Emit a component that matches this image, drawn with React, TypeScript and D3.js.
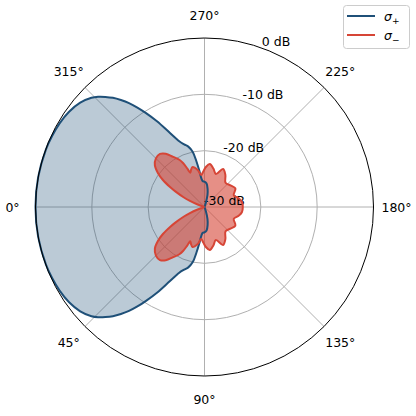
import React from 'react';
import * as d3 from 'd3';

const W = 416;
const H = 416;
const CX = 204.5;
const CY = 207;
const R = 169;

// sigma+ pattern (theta in degrees, 0 = West, counter-clockwise on screen), dB
const blueAngles = [0, 10, 20, 25, 30, 35, 40, 44, 46, 48, 50, 52, 54, 56, 58, 61, 65, 69, 72, 75, 78, 80, 82, 84, 86, 90, 95, 100, 104, 108, 112, 180,
  248, 252, 256, 260, 265, 270, 274, 276, 278, 280, 282, 285, 288, 291, 295, 299, 302, 304, 306, 308, 310, 312, 314, 316, 320, 325, 330, 335, 340, 350];
const blueDb = [0, 0, -0.05, -0.15, -0.3, -0.6, -1.2, -2.1, -2.8, -3.7, -4.7, -5.9, -7.2, -8.7, -10.3, -12.6, -15.5, -17.5, -18.3, -18.9, -20.0, -21.8, -23.6, -25.0, -25.4, -25.5, -25.8, -26.8, -27.8, -29.2, -30, -30,
  -30, -29.2, -27.8, -26.8, -25.8, -25.5, -25.4, -25.0, -23.6, -21.8, -20.0, -18.9, -18.3, -17.5, -15.5, -12.6, -10.3, -8.7, -7.2, -5.9, -4.7, -3.7, -2.8, -2.1, -1.2, -0.6, -0.3, -0.15, -0.05, 0];

// sigma- pattern
const redAngles = [0, 15, 18, 20, 23, 25, 28, 30, 33, 36, 40, 45, 50, 54, 58, 62, 64, 66, 67.5, 70, 73, 76, 80, 84, 88, 92, 97, 103, 109, 116, 123, 131, 140, 149, 158, 166, 172, 180,
  188, 194, 202, 211, 220, 229, 237, 244, 251, 257, 263, 268, 272, 276, 280, 284, 287, 290, 292.5, 294, 296, 298, 302, 306, 310, 315, 320, 324, 327, 330, 332, 335, 337, 340, 342, 345];
const redDb = [-30, -30, -29.6, -28.7, -27.1, -25.9, -24.2, -23.0, -21.2, -19.8, -18.5, -17.8, -17.7, -18.3, -19.5, -20.5, -21.3, -22.6, -23.4, -23.0, -22.6, -22.8, -23.4, -24.3, -23.7, -22.9, -22.3, -23.0, -23.8, -22.5, -23.2, -24.3, -24.0, -23.6, -24.4, -23.7, -23.3, -23.2,
  -23.3, -23.7, -24.4, -23.6, -24.0, -24.3, -23.2, -22.5, -23.8, -23.0, -22.3, -22.9, -23.7, -24.3, -23.4, -22.8, -22.6, -23.0, -23.4, -22.6, -21.3, -20.5, -19.5, -18.3, -17.7, -17.8, -18.5, -19.8, -21.2, -23.0, -24.2, -25.9, -27.1, -28.7, -29.6, -30];

const angleTicks = [0, 45, 90, 135, 180, 225, 270, 315];
const angleTickLabels = ['0°', '45°', '90°', '135°', '180°', '225°', '270°', '315°'];
const radialTicks = [-30, -20, -10, 0];
const radialTickLabels = ['-30 dB', '-20 dB', '-10 dB', '0 dB'];
const seriesSub = ['+', '−'];
const seriesColors = ['#1f5078', '#d64536'];

const rScale = d3.scaleLinear().domain([-30, 0]).range([0, R]).clamp(true);
const toRad = (deg: number) => ((270 - deg) * Math.PI) / 180;

type Pt = { a: number; v: number };
const mk = (angles: number[], vals: number[]): Pt[] => angles.map((a, i) => ({ a, v: vals[i] }));

const line = d3
  .lineRadial<Pt>()
  .angle((d) => toRad(d.a))
  .radius((d) => rScale(d.v))
  .curve(d3.curveCatmullRomClosed.alpha(0.5));

export default function App() {
  const blue = mk(blueAngles, blueDb);
  const red = mk(redAngles, redDb);
  const bluePath = line(blue) || '';
  const redPath = line(red) || '';
  const font = 'DejaVu Sans, sans-serif';
  const pos = (deg: number, r: number) => {
    const t = (deg * Math.PI) / 180;
    return [CX - r * Math.cos(t), CY + r * Math.sin(t)];
  };
  return (
    <svg width={W} height={H} style={{ position: 'absolute', left: 0, top: 0, background: '#fff' }} fontFamily={font}>
      <rect x={0} y={0} width={W} height={H} fill="#fff" />
      <g transform={`translate(${CX},${CY})`}>
        {radialTicks.slice(1, 3).map((t) => (
          <circle key={t} r={rScale(t)} fill="none" stroke="#b0b0b0" strokeWidth={1} />
        ))}
        {angleTicks.map((a) => {
          const t = toRad(a);
          return (
            <line key={a} x1={0} y1={0} x2={R * Math.sin(t)} y2={-R * Math.cos(t)} stroke="#b0b0b0" strokeWidth={1} />
          );
        })}
        <path d={bluePath} fill={seriesColors[0]} fillOpacity={0.3} stroke="none" />
        <path d={redPath} fill={seriesColors[1]} fillOpacity={0.6} stroke="none" />
      </g>
      {radialTicks.map((t, i) => {
        const r = rScale(t);
        const x = CX + r * Math.sin((20 * Math.PI) / 180) - 0.5;
        const y = CY - r * Math.cos((20 * Math.PI) / 180) - 2;
        return (
          <text key={t} x={x} y={y} fontSize={12.5} fill="#000">
            {radialTickLabels[i]}
          </text>
        );
      })}
      <g transform={`translate(${CX},${CY})`}>
        <path d={bluePath} fill="none" stroke={seriesColors[0]} strokeWidth={2} strokeLinejoin="round" />
        <path d={redPath} fill="none" stroke={seriesColors[1]} strokeWidth={2} strokeLinejoin="round" />
        <circle r={R} fill="none" stroke="#000" strokeWidth={1} />
      </g>
      {angleTicks.map((a, i) => {
        const [x, y] = pos(a, R + 23);
        return (
          <text key={a} x={x} y={y} fontSize={12.5} textAnchor="middle" dominantBaseline="central" fill="#000">
            {angleTickLabels[i]}
          </text>
        );
      })}
      <g>
        <rect x={343.5} y={5.5} width={66} height={43} rx={3} fill="#fff" fillOpacity={0.8} stroke="#cccccc" strokeWidth={1} />
        {seriesSub.map((s, i) => (
          <g key={s}>
            <line x1={347} x2={375} y1={16 + i * 19} y2={16 + i * 19} stroke={seriesColors[i]} strokeWidth={2} />
            <text x={384} y={20.5 + i * 19} fontSize={12.5} fontStyle="italic" fill="#000">
              σ
              <tspan fontSize={9} dy={3} fontStyle="normal">{s}</tspan>
            </text>
          </g>
        ))}
      </g>
    </svg>
  );
}
